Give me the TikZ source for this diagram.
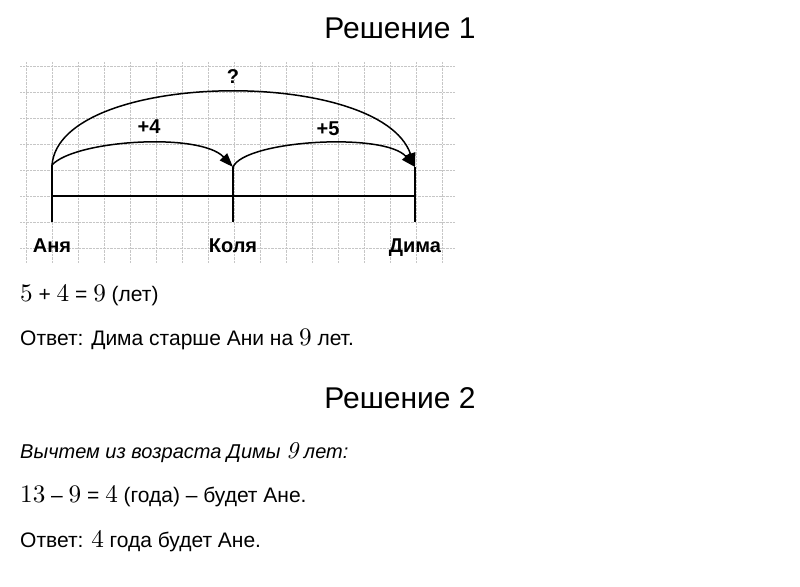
\documentclass[tikz,border=0pt]{standalone}
\usepackage{fontspec}
\setmainfont{Liberation Sans}
\newfontfamily\digfont{lmroman10}[Extension=.otf,UprightFont=*-regular,ItalicFont=*-italic,Scale=1.2]
\usetikzlibrary{arrows.meta}
\newcommand{\dg}[1]{{\digfont #1}}

\begin{document}
\begin{tikzpicture}[x=1pt,y=-1pt,>={Triangle[length=14pt,width=10pt]},
	title/.style={anchor=base,inner sep=0pt,font=\fontsize{30}{36}\selectfont},
	textline/.style={anchor=base west,inner sep=0pt,font=\fontsize{21}{25}\selectfont},
	person/.style={anchor=base,inner sep=0pt,font=\fontsize{20}{24}\selectfont\bfseries},
	jump/.style={anchor=base,inner sep=0pt,font=\fontsize{20}{24}\selectfont\bfseries},
	]
	\useasboundingbox[fill=white] (0,0) rectangle (800,586);

	% squared paper
	\foreach \x in {0,...,16} \draw[gray!45,densely dotted] (26+26*\x,62) -- (26+26*\x,263);
	\foreach \y in {0,...,7} \draw[gray!45,densely dotted] (20,66+26*\y) -- (455,66+26*\y);

	% points on the line
	\coordinate (anyaTop) at (52,165);
	\coordinate (kolyaTop) at (233,167);
	\coordinate (dimaTop) at (415,167);
	\coordinate (anyaAxis) at (52,196);
	\coordinate (dimaAxis) at (415,196);
	\coordinate (anyaLow) at (52,222);
	\coordinate (kolyaLow) at (233,222);
	\coordinate (dimaLow) at (415,222);

	% names
	\node[person] (anya) at (52,252) {Аня};
	\node[person] (kolya) at (233,252) {Коля};
	\node[person] (dima) at (415,252) {Дима};

	% line and ticks
	\draw[line width=2.2pt] (anyaAxis) -- (dimaAxis);
	\draw[line width=1.2pt] (anyaTop) -- (anyaLow);
	\draw[line width=1.2pt] (kolyaTop) -- (kolyaLow);
	\draw[line width=1.2pt] (dimaTop) -- (dimaLow);

	% jumps
	\draw[->,line width=1.5pt] (anyaTop) .. controls (75,140) and (200,132) .. (kolyaTop);
	\draw[->,line width=1.5pt] (kolyaTop) .. controls (245,140) and (385,132) .. (dimaTop);
	\draw[->,line width=1.5pt] (anyaTop) .. controls (60,70) and (380,66) .. (dimaTop);
	\node[jump] (plusfour) at (149,133) {+4};
	\node[jump] (plusfive) at (328,135) {+5};
	\node[jump] (ask) at (233,84) {?};

	% solution texts
	\node[title] (sol1) at (400,38) {Решение 1};
	\node[textline] (eq1) at (20,301) {\dg{5} + \dg{4} = \dg{9} (лет)};
	\node[textline] (ans1) at (20,345) {Ответ: Дима старше Ани на \dg{9} лет.};
	\node[title] (sol2) at (400,408) {Решение 2};
	\node[textline,font=\fontsize{20}{24}\selectfont] (hint) at (20,458) {\itshape Вычтем из возраста Димы {\digfont\itshape 9} лет:};
	\node[textline] (eq2) at (20,502) {\dg{13} – \dg{9} = \dg{4} (года) – будет Ане.};
	\node[textline] (ans2) at (20,547) {Ответ: \dg{4} года будет Ане.};
\end{tikzpicture}
\end{document}
